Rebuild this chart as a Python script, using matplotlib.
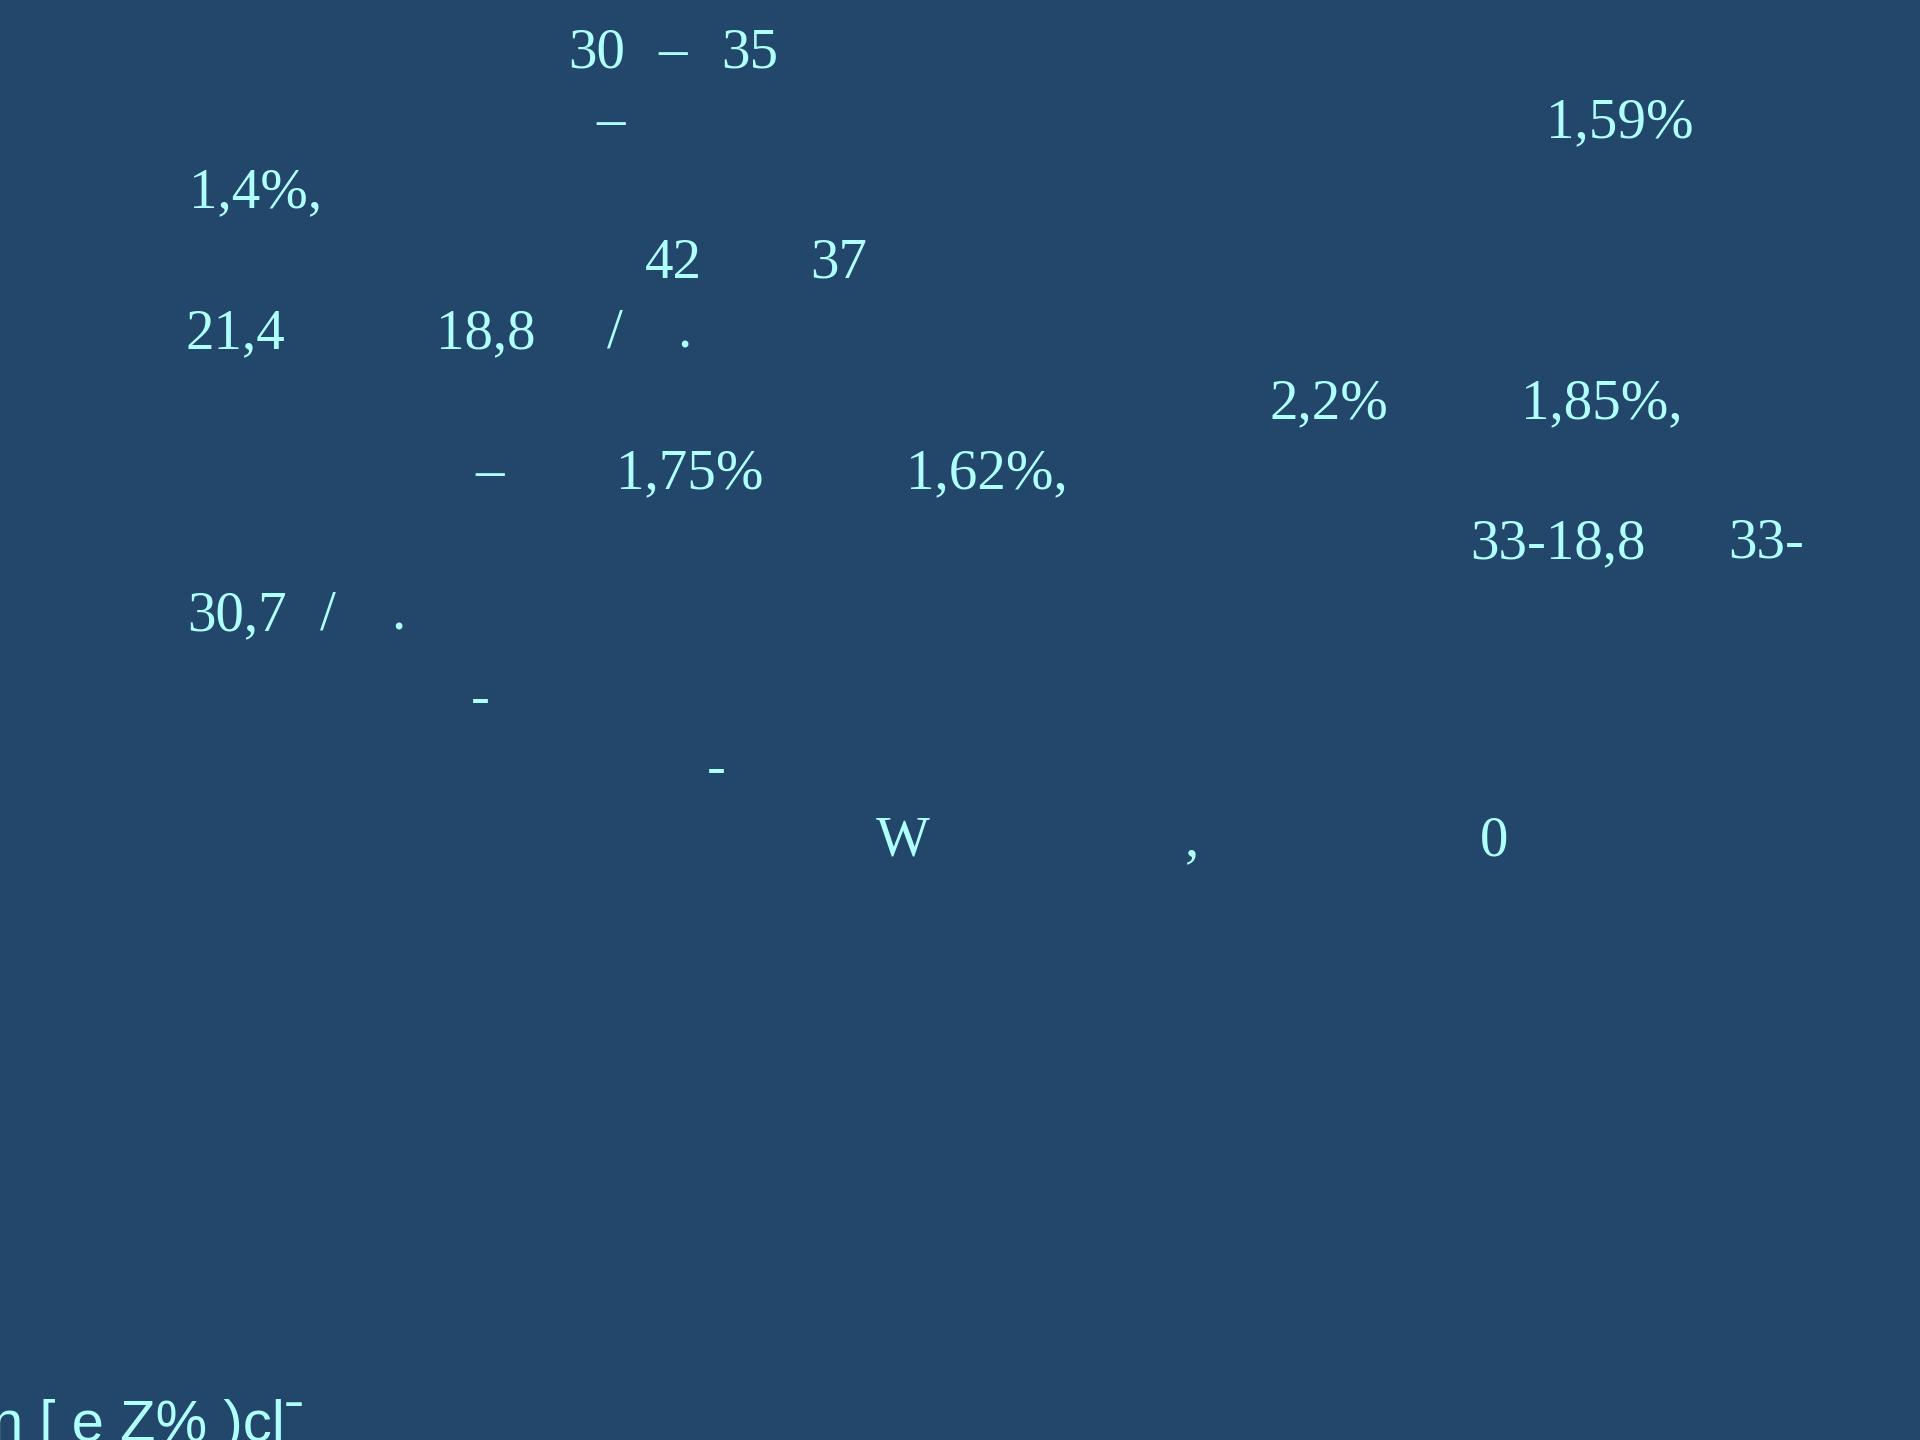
"""Slide with leftover number fragments on a dark blue background."""
import matplotlib
matplotlib.use("Agg")
import matplotlib.pyplot as plt

BG = "#23466b"
FG = "#b0ffff"

# baselines of the text lines, in pixels from the top
line_y = [67, 137, 207, 278, 348, 418, 488, 558, 630, 714, 784, 855]

# fragments: text, left x, line index
frag_text = ["30", "\u2013", "35",
             "\u2013", "1,59%",
             "1,4%,",
             "42", "37",
             "21,4", "18,8", "/", ".",
             "2,2%", "1,85%,",
             "\u2013", "1,75%", "1,62%,",
             "33-18,8", "33-",
             "30,7", "/", ".",
             "-",
             "-",
             "W", ",", "0"]
frag_x = [570, 660, 723,
          598, 1548,
          191,
          647, 812,
          188, 438, 609, 679,
          1271, 1523,
          477, 618, 908,
          1472, 1730,
          189, 322, 393,
          473,
          709,
          878, 1187, 1482]
frag_line = [0, 0, 0,
             1, 1,
             2,
             3, 3,
             4, 4, 4, 4,
             5, 5,
             6, 6, 6,
             7, 7,
             8, 8, 8,
             9,
             10,
             11, 11, 11]

# the cut-off line at the very bottom
footer_text = "n [ e Z% )cl\u02c9"
footer_x = -9
footer_y = 1441


def draw():
    fig = plt.figure(figsize=(19.2, 14.4), dpi=100)
    fig.patch.set_facecolor(BG)
    ax = fig.add_axes([0, 0, 1, 1])
    ax.set_facecolor(BG)
    ax.set_xlim(0, 1920)
    ax.set_ylim(1440, 0)
    ax.axis("off")

    for txt, x, ln in zip(frag_text, frag_x, frag_line):
        ax.text(x - 2, line_y[ln], txt, color=FG, fontsize=41,
                family="Liberation Serif", ha="left", va="baseline")

    ax.text(footer_x, footer_y, footer_text, color=FG, fontsize=41.8,
            family=["Liberation Sans", "DejaVu Sans"], ha="left",
            va="baseline")

    fig.savefig("out.png", dpi=100, facecolor=BG)


if __name__ == "__main__":
    draw()
